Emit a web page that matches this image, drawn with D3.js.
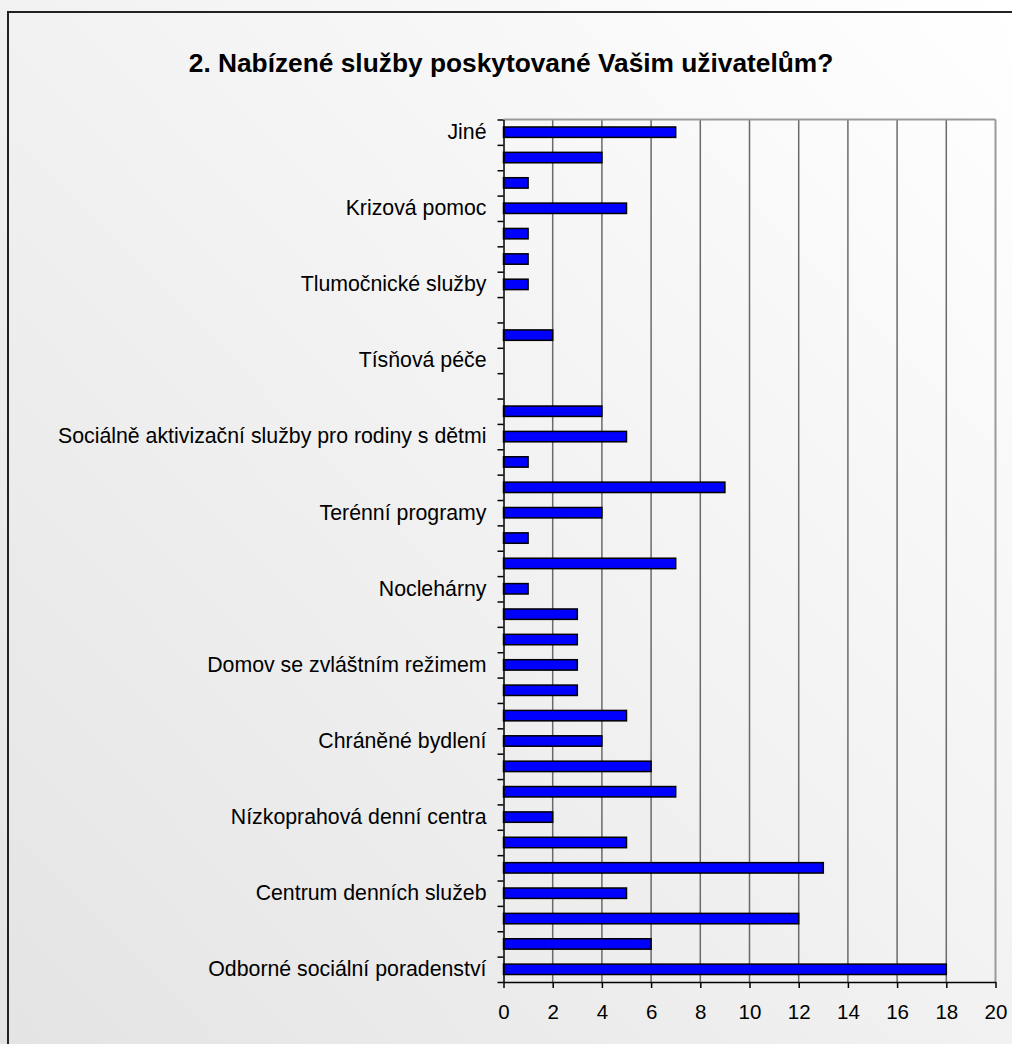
<!DOCTYPE html>
<html>
<head>
<meta charset="utf-8">
<script src="https://cdn.jsdelivr.net/npm/d3@7"></script>
<style>
  body { margin: 0; background: #fff; }
  svg { display: block; }
</style>
</head>
<body>
<div id="mainContainer"></div>
<script>
// categories from bottom to top, only every third one is labelled on the axis
var categories = [
    "Odborné sociální poradenství",
    "Osobní asistence",
    "Pečovatelská služba",
    "Centrum denních služeb",
    "Denní stacionáře",
    "Týdenní stacionáře",
    "Nízkoprahová denní centra",
    "Domovy pro seniory",
    "Domovy pro osoby se zdravotním postižením",
    "Chráněné bydlení",
    "Podpora samostatného bydlení",
    "Odlehčovací služby",
    "Domov se zvláštním režimem",
    "Azylové domy",
    "Domy na půl cesty",
    "Noclehárny",
    "Nízkoprahová zařízení pro děti a mládež",
    "Služby následné péče",
    "Terénní programy",
    "Sociální rehabilitace",
    "Sociálně terapeutické dílny",
    "Sociálně aktivizační služby pro rodiny s dětmi",
    "Sociálně aktivizační služby pro seniory",
    "Průvodcovské a předčitatelské služby",
    "Tísňová péče",
    "Raná péče",
    "Telefonická krizová pomoc",
    "Tlumočnické služby",
    "Kontaktní centra",
    "Intervenční centra",
    "Krizová pomoc",
    "Terapeutické komunity",
    "Služby ve zdravotnických zařízeních",
    "Jiné"
];
var values = [18, 6, 12, 5, 13, 5, 2, 7, 6, 4, 5, 3, 3, 3, 3, 1, 7, 1, 4, 9, 1, 5, 4, 0, 0, 2, 0, 1, 1, 1, 5, 1, 4, 7];
var xTicks = [0, 2, 4, 6, 8, 10, 12, 14, 16, 18, 20];
var title = "2. Nabízené služby poskytované Vašim uživatelům?";

var dataArray = [];
for (var i = 0; i < categories.length; i++) {
    dataArray.push({ name: categories[i], value: values[i] });
}

var W = 1012, H = 1044;
var margin = { top: 119.5, left: 503.5 },
    width = 492,
    height = 862.5;

var svg = d3.select('#mainContainer').append('svg')
    .attr('width', W)
    .attr('height', H);

var grad = svg.append('defs').append('linearGradient')
    .attr('id', 'bg')
    .attr('x1', '0%').attr('y1', '100%')
    .attr('x2', '100%').attr('y2', '0%');
grad.append('stop').attr('offset', '0%').attr('stop-color', '#e4e4e4');
grad.append('stop').attr('offset', '100%').attr('stop-color', '#ffffff');

svg.append('rect')
    .attr('width', W).attr('height', H)
    .attr('fill', 'url(#bg)');

// outer chart frame (runs off the right and bottom edge)
svg.append('rect')
    .attr('x', 8).attr('y', 12)
    .attr('width', W + 20).attr('height', H + 20)
    .attr('fill', 'none')
    .attr('stroke', '#222')
    .attr('stroke-width', 2);

svg.append('text')
    .attr('x', 511)
    .attr('y', 72)
    .attr('text-anchor', 'middle')
    .attr('font-family', 'Liberation Sans, Arial, sans-serif')
    .attr('font-weight', 'bold')
    .attr('font-size', '26.3px')
    .attr('fill', '#000')
    .text(title);

var g = svg.append('g')
    .attr('transform', 'translate(' + margin.left + ',' + margin.top + ')');

var xscale = d3.scaleLinear()
    .domain([0, 20])
    .range([0, width]);

var yscale = d3.scaleBand()
    .domain(categories)
    .range([height, 0])
    .padding(0);

// category boundaries for the tick marks
var yIndex = d3.scaleLinear()
    .domain([0, categories.length])
    .range([height, 0]);

// gridlines
g.append('g')
    .selectAll('line')
    .data(xTicks.slice(1))
    .enter()
    .append('line')
    .attr('x1', function (d) { return xscale(d); })
    .attr('x2', function (d) { return xscale(d); })
    .attr('y1', 0)
    .attr('y2', height)
    .attr('stroke', function (d) { return d == 20 ? '#9a9a9a' : '#6a6a6a'; })
    .attr('stroke-width', function (d) { return d == 20 ? 2 : 1.5; });

g.append('line')
    .attr('x1', 0).attr('x2', width)
    .attr('y1', 0).attr('y2', 0)
    .attr('stroke', '#9a9a9a')
    .attr('stroke-width', 2);

var barH = yscale.bandwidth() * 0.41;

g.append('g')
    .selectAll('rect')
    .data(dataArray.filter(function (d) { return d.value > 0; }))
    .enter()
    .append('rect')
    .attr('x', xscale(0))
    .attr('y', function (d) { return yscale(d.name) + (yscale.bandwidth() - barH) / 2; })
    .attr('width', function (d) { return xscale(d.value) - xscale(0); })
    .attr('height', barH)
    .attr('fill', '#0000ff')
    .attr('stroke', '#000')
    .attr('stroke-width', 1.5);

// x axis
var xAxis = g.append('g')
    .attr('transform', 'translate(0,' + height + ')')
    .call(d3.axisBottom(xscale).tickValues(xTicks).tickSize(6).tickPadding(16).tickSizeOuter(0));
xAxis.selectAll('text')
    .attr('font-family', 'Liberation Sans, Arial, sans-serif')
    .attr('font-size', '20.5px')
    .attr('fill', '#000');
xAxis.select('.domain').attr('stroke', '#000').attr('stroke-width', 1.5);
xAxis.selectAll('.tick line').attr('stroke', '#000').attr('stroke-width', 1.5);

// y axis tick marks between categories
var yTicks = g.append('g')
    .call(d3.axisLeft(yIndex).tickValues(d3.range(categories.length + 1)).tickFormat('').tickSize(6).tickSizeOuter(0));
yTicks.select('.domain').attr('stroke', '#000').attr('stroke-width', 1.5);
yTicks.selectAll('.tick line').attr('stroke', '#000').attr('stroke-width', 1.5);

// y labels, every third category
var yLabels = g.append('g')
    .call(d3.axisLeft(yscale)
        .tickValues(categories.filter(function (d, i) { return i % 3 == 0; }))
        .tickSize(0)
        .tickPadding(17));
yLabels.select('.domain').remove();
yLabels.selectAll('text')
    .attr('font-family', 'Liberation Sans, Arial, sans-serif')
    .attr('font-size', '21.3px')
    .attr('fill', '#000');
</script>
</body>
</html>
